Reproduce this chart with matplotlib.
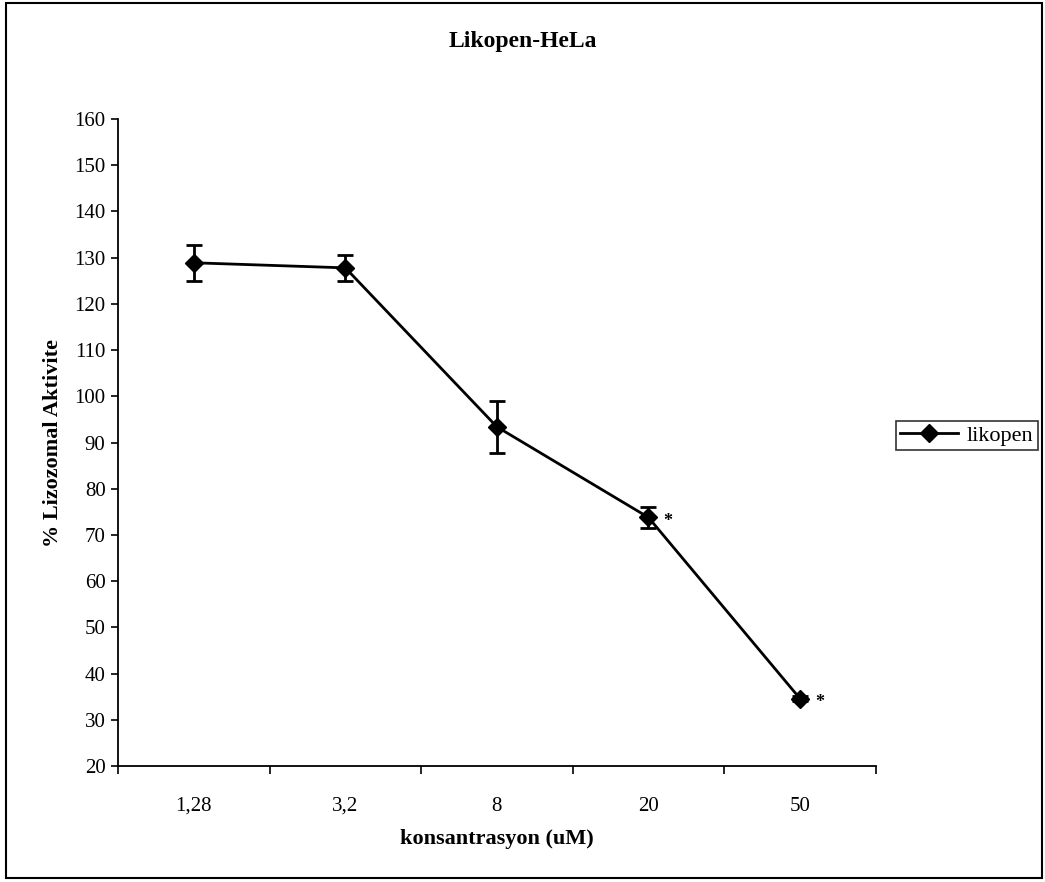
import matplotlib
matplotlib.use("Agg")
import matplotlib.pyplot as plt
from matplotlib.patches import Rectangle
from matplotlib.lines import Line2D

plt.rcParams['font.family'] = ['Liberation Serif', 'DejaVu Serif']

# data
konsantrasyon = ['1,28', '3,2', '8', '20', '50']
aktivite = [128.9, 127.8, 93.4, 73.8, 34.6]
hata = [3.9, 2.8, 5.6, 2.2, 0.6]
yildiz = ['', '', '', '*', '*']

fig = plt.figure(figsize=(10.45, 8.82), dpi=100)
ax = fig.add_axes([0.113, 0.1315, 0.725, 0.7335])

x = list(range(len(konsantrasyon)))
ax.errorbar(x, aktivite, yerr=hata, color='black', lw=2, marker='D',
            markersize=9, capsize=6, capthick=2, elinewidth=2)

# anlamlilik isaretleri
for xi, yi, s in zip(x, aktivite, yildiz):
    if s:
        ax.annotate(s, (xi, yi), xytext=(14, -6), textcoords='offset points',
                    fontsize=13, fontweight='bold', ha='center')

ax.set_xlim(-0.5, len(x) - 0.5)
ax.set_ylim(20, 160)
ax.set_yticks(range(20, 161, 10))
ax.set_xticks(x)
ax.set_xticklabels(konsantrasyon)
ax.set_xticks([i - 0.5 for i in range(len(x) + 1)], minor=True)
ax.tick_params(axis='x', which='major', length=0, pad=22, labelsize=15)
ax.tick_params(axis='x', which='minor', length=6, width=1.2, direction='out')
ax.tick_params(axis='y', length=5, width=1.2, labelsize=15, pad=4)
for s in ['top', 'right']:
    ax.spines[s].set_visible(False)
ax.spines['left'].set_linewidth(1.3)
ax.spines['bottom'].set_linewidth(1.3)

ax.set_xlabel('konsantrasyon (uM)', fontsize=16, fontweight='bold', labelpad=10)
ax.set_ylabel('% Lizozomal Aktivite', fontsize=16, fontweight='bold', labelpad=8)
fig.text(0.5, 0.953, 'Likopen-HeLa', fontsize=17, fontweight='bold',
         ha='center', va='center')

handle = Line2D([], [], color='black', lw=2, marker='D', markersize=9)
leg = fig.legend([handle], ['likopen'], loc='center', bbox_to_anchor=(0.925, 0.506),
                 fontsize=16, frameon=True, fancybox=False, edgecolor='black',
                 handlelength=2.6, borderpad=0.2, handletextpad=0.4)
leg.get_frame().set_linewidth(1.2)

# dis cerceve
fig.patches.append(Rectangle((0.006, 0.004), 0.991, 0.993, transform=fig.transFigure,
                             fill=False, edgecolor='black', lw=1.5))

fig.savefig('out.png', dpi=100)
